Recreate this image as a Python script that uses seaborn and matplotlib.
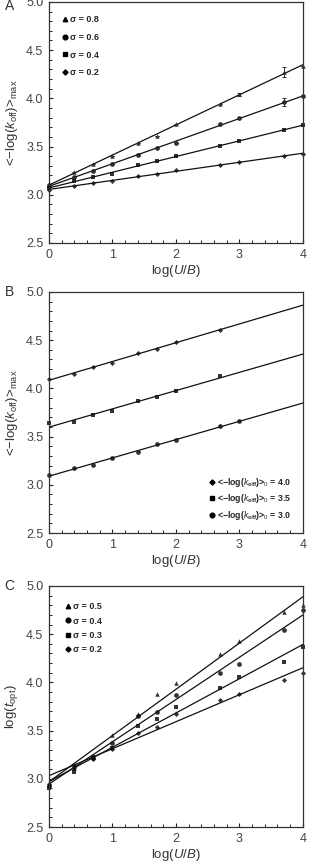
import numpy as np
import pandas as pd
import seaborn as sns
import matplotlib
matplotlib.use("Agg")
import matplotlib.pyplot as plt
from matplotlib.lines import Line2D
from matplotlib.ticker import MultipleLocator

sns.set_style("ticks")
plt.rcParams['font.family'] = ['Liberation Sans', 'DejaVu Sans']
plt.rcParams['mathtext.fontset'] = 'custom'
plt.rcParams['mathtext.rm'] = 'Liberation Sans'
plt.rcParams['mathtext.it'] = 'Liberation Sans:italic'
plt.rcParams['mathtext.bf'] = 'Liberation Sans:bold'

# data
x_ub = [0, 0.4, 0.7, 1.0, 1.4, 1.7, 2.0, 2.7, 3.0, 3.7, 4.0]

# panel A: <-log(koff)>max vs log(U/B) for sigma values
a_labels = ["σ = 0.8", "σ = 0.6", "σ = 0.4", "σ = 0.2"]
a_s08 = [3.10, 3.24, 3.32, 3.40, 3.54, 3.61, 3.73, 3.94, 4.04, 4.27, 4.34]
a_s06 = [3.10, 3.18, 3.25, 3.32, 3.41, 3.48, 3.54, 3.73, 3.80, 3.96, 4.02]
a_s04 = [3.07, 3.14, 3.18, 3.22, 3.31, 3.35, 3.40, 3.51, 3.56, 3.67, 3.72]
a_s02 = [3.05, 3.09, 3.12, 3.14, 3.19, 3.22, 3.26, 3.31, 3.34, 3.40, 3.42]
a_err08 = [0, 0, 0, 0, 0, 0, 0, 0, 0.02, 0.05, 0]
a_err06 = [0, 0, 0, 0, 0, 0, 0, 0, 0, 0.04, 0]

# panel B: starting value <-log(koff)>0
b_labels = ["<−log($k_{\\mathregular{off}}$)>$_0$ = 4.0",
            "<−log($k_{\\mathregular{off}}$)>$_0$ = 3.5",
            "<−log($k_{\\mathregular{off}}$)>$_0$ = 3.0"]
b_x40 = [0, 0.4, 0.7, 1.0, 1.4, 1.7, 2.0, 2.7]
b_y40 = [4.10, 4.15, 4.22, 4.26, 4.37, 4.41, 4.48, 4.61]
b_x35 = [0, 0.4, 0.7, 1.0, 1.4, 1.7, 2.0, 2.7]
b_y35 = [3.64, 3.65, 3.72, 3.77, 3.87, 3.91, 3.97, 4.13]
b_x30 = [0, 0.4, 0.7, 1.0, 1.4, 1.7, 2.0, 2.7, 3.0]
b_y30 = [3.10, 3.17, 3.21, 3.28, 3.34, 3.42, 3.46, 3.61, 3.66]

# panel C: log(t_opt)
c_labels = ["σ = 0.5", "σ = 0.4", "σ = 0.3", "σ = 0.2"]
c_s05 = [2.95, 3.11, 3.24, 3.45, 3.67, 3.88, 3.99, 4.29, 4.43, 4.73, 4.80]
c_s04 = [2.93, 3.12, 3.22, 3.37, 3.65, 3.69, 3.87, 4.10, 4.19, 4.54, 4.75]
c_s03 = [2.90, 3.07, 3.23, 3.32, 3.55, 3.62, 3.74, 3.94, 4.06, 4.21, 4.37]
c_s02 = [2.95, 3.14, 3.21, 3.31, 3.48, 3.54, 3.67, 3.82, 3.88, 4.02, 4.10]

markers4 = ['^', 'o', 's', 'D']
msizes = [3.2, 3.4, 3.0, 2.6]

fig = plt.figure(figsize=(3.1, 8.64), dpi=100)
axA = fig.add_axes([0.158, 0.7188, 0.819, 0.279])
axB = fig.add_axes([0.158, 0.3831, 0.819, 0.279])
axC = fig.add_axes([0.158, 0.0428, 0.819, 0.279])


def style_axis(ax, ylabel):
    ax.set_xlim(0, 4)
    ax.set_ylim(2.5, 5.0)
    ax.xaxis.set_major_locator(MultipleLocator(1))
    ax.xaxis.set_minor_locator(MultipleLocator(0.2))
    ax.yaxis.set_major_locator(MultipleLocator(0.5))
    ax.yaxis.set_minor_locator(MultipleLocator(0.1))
    ax.tick_params(which='both', direction='in', top=False, right=False,
                   colors='#222222', labelcolor='#444444', labelsize=9)
    ax.tick_params(which='major', length=3, width=0.8, pad=4)
    ax.tick_params(which='minor', length=2, width=0.7)
    ax.set_yticks([2.5, 3.0, 3.5, 4.0, 4.5, 5.0])
    ax.set_yticklabels(["2.5", "3.0", "3.5", "4.0", "4.5", "5.0"])
    for sp in ax.spines.values():
        sp.set_visible(True)
        sp.set_color('#333333')
        sp.set_linewidth(0.9)
    ax.set_xlabel("log($U$/$B$)", fontsize=9.5, color='#333333', labelpad=2)
    ax.set_ylabel(ylabel, fontsize=9.5, color='#333333', labelpad=4)


def fit_panel(ax, xs, ys, mks, sizes):
    for x, y, m, s in zip(xs, ys, mks, sizes):
        sns.regplot(x=np.array(x, dtype=float), y=np.array(y, dtype=float), ax=ax,
                    ci=None, truncate=False, marker=m, color='black',
                    scatter_kws={'s': s ** 2, 'clip_on': False, 'linewidths': 0},
                    line_kws={'lw': 0.9, 'color': '#111111'})


# panel A
style_axis(axA, "<−log($k_{\\mathregular{off}}$)>$_{\\mathregular{max}}$")
fit_panel(axA, [x_ub] * 4, [a_s08, a_s06, a_s04, a_s02], markers4, msizes)
for ys, es in [(a_s08, a_err08), (a_s06, a_err06)]:
    axA.errorbar(x_ub, ys, yerr=es, fmt='none', ecolor='#333333',
                 elinewidth=0.7, capsize=1.5, capthick=0.7)
hA = [Line2D([], [], ls='none', marker=m, color='black', markersize=s)
      for m, s in zip(markers4, msizes)]
axA.legend(hA, a_labels, loc='upper left', frameon=False,
           prop={'size': 6.5, 'weight': 'bold'}, handlelength=0.6,
           handletextpad=0.25, labelspacing=0.95, borderaxespad=1.1)

# panel B
style_axis(axB, "<−log($k_{\\mathregular{off}}$)>$_{\\mathregular{max}}$")
fit_panel(axB, [b_x40, b_x35, b_x30], [b_y40, b_y35, b_y30],
          ['D', 's', 'o'], [2.6, 3.0, 3.4])
hB = [Line2D([], [], ls='none', marker=m, color='black', markersize=s)
      for m, s in zip(['D', 's', 'o'], [2.6, 3.0, 3.4])]
axB.legend(hB, b_labels, loc='lower right', frameon=False,
           prop={'size': 6.3, 'weight': 'bold'}, handlelength=0.6,
           handletextpad=0.3, labelspacing=0.4, borderaxespad=0.9)

# panel C
style_axis(axC, "log($t_{\\mathregular{opt}}$)")
fit_panel(axC, [x_ub] * 4, [c_s05, c_s04, c_s03, c_s02], markers4, msizes)
hC = [Line2D([], [], ls='none', marker=m, color='black', markersize=s)
      for m, s in zip(markers4, msizes)]
axC.legend(hC, c_labels, loc='upper left', frameon=False,
           prop={'size': 6.5, 'weight': 'bold'}, handlelength=0.6,
           handletextpad=0.25, labelspacing=0.6, borderaxespad=1.4)

# panel letters
for ax, letter, yy in [(axA, "A", 0.985), (axB, "B", 1.0), (axC, "C", 1.0)]:
    ax.text(-0.175, yy, letter, transform=ax.transAxes, fontsize=10,
            color='#333333', va='center', ha='left')

fig.savefig("out.png", dpi=100)
